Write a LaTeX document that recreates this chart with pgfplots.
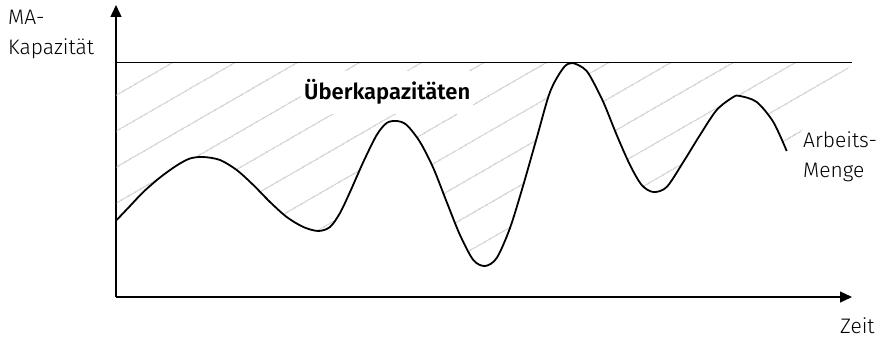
\documentclass[border=0pt]{standalone}
\usepackage{pgfplots}
\pgfplotsset{compat=1.18}
\usepgfplotslibrary{fillbetween}
\usetikzlibrary{arrows.meta,patterns.meta}
\usepackage{fontspec}
\setmainfont{Fira Sans Light}[BoldFont={Fira Sans SemiBold}]

\pgfplotstableread{
x y
116.7 77
130 91
143.3 105
160 119.5
176.7 131.5
190 138.5
203.3 140
220 137
236.7 127
253.3 112
270 95
286.7 80
303.3 70
318.3 66
330 70
340 84
350 105
363.3 135
376.7 162
386.7 174
396.7 176
406.7 172
420 155
433.3 129
446.7 95
460 62
473.3 37
485 31
496.7 39
510 69
523.3 112
536.7 159
550 205
563.3 229
572 234
583.3 229
590 221
603.3 195
616.7 162
630 132
641.7 112
653.3 105
666.7 110
683.3 135
700 162
716.7 187
733.3 200
740 201
756.7 195
773.3 175
786.7 146
}\arbeit

\begin{document}
\begin{tikzpicture}
  \begin{axis}[
    x=1pt, y=1pt,
    xmin=116, xmax=852, ymin=0, ymax=292,
    axis lines=left,
    axis line style={line width=1.3pt},
    x axis line style={-{Triangle[length=12pt,width=11pt]}},
    y axis line style={-{Triangle[length=12pt,width=11pt]}},
    xtick=\empty, ytick=\empty,
    clip=false,
    font=\fontsize{21}{25}\selectfont,
  ]
    % Kapazitaetsgrenze
    \addplot[name path=top, draw=none] coordinates {(116,234) (852,234)};
    % Arbeitsmenge
    \addplot[name path=curve, draw=none, smooth] table {\arbeit};
    \addplot[pattern={Lines[angle=30, distance=31pt, xshift=9.7pt, line width=0.9pt]},
      pattern color=black!30, draw=none] fill between[of=top and curve];
    \addplot[black, line width=1pt] coordinates {(116,234) (852,234)};
    \addplot[black, line width=1.8pt, smooth] table {\arbeit};

    \node[anchor=base west, fill=white, inner xsep=3pt, inner ysep=9pt,
      font=\fontsize{22}{26}\selectfont\bfseries] at (axis cs:301,197) {Überkapazitäten};
    \node[anchor=base west, inner sep=0pt] at (axis cs:8,272) {MA-};
    \node[anchor=base west, inner sep=0pt] at (axis cs:8,242) {Kapazität};
    \node[anchor=base west, inner sep=0pt] at (axis cs:803,150) {Arbeits-};
    \node[anchor=base west, inner sep=0pt] at (axis cs:803,120) {Menge};
    \node[anchor=base west, inner sep=0pt] at (axis cs:840,-36) {Zeit};

    \coordinate (bl) at (axis cs:0,-41);
    \coordinate (tr) at (axis cs:880,297);
  \end{axis}
  \pgfresetboundingbox
  \path[use as bounding box] (bl) rectangle (tr);
\end{tikzpicture}
\end{document}
